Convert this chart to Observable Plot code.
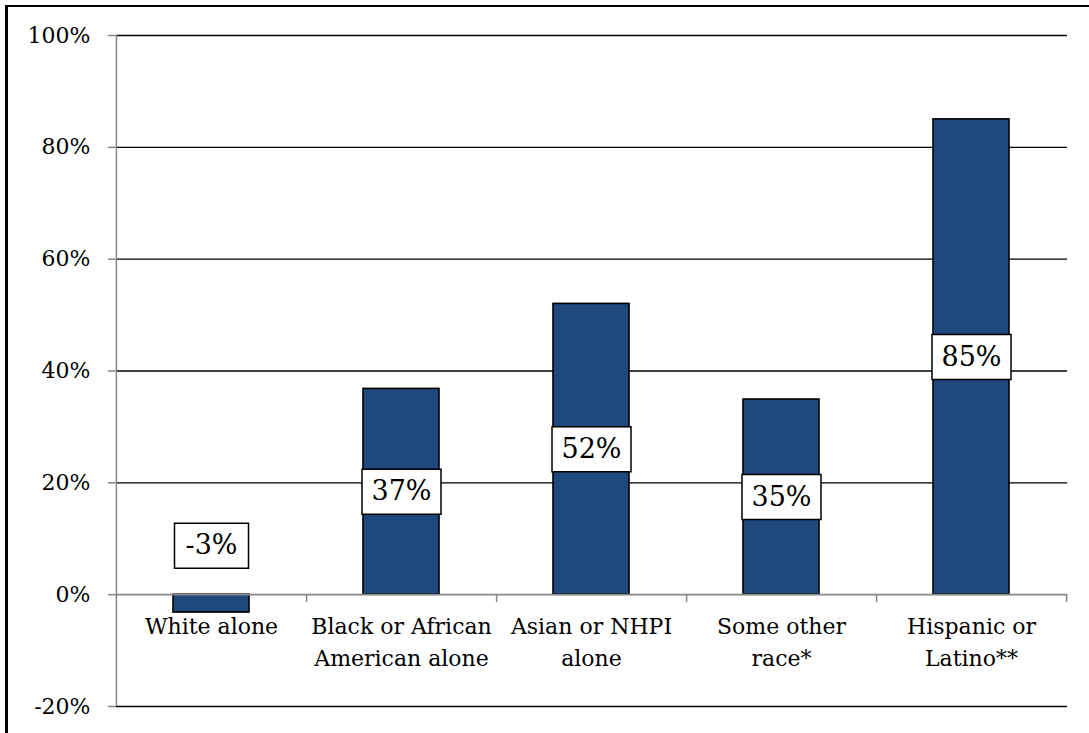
<!DOCTYPE html>
<html>
<head>
<meta charset="utf-8">
<script src="https://cdn.jsdelivr.net/npm/d3@7"></script>
<script src="https://cdn.jsdelivr.net/npm/@observablehq/plot@0.6"></script>
<style>
  html, body { margin: 0; padding: 0; background: white; }
  #wrap { position: relative; width: 1089px; height: 733px; overflow: hidden; }
  #chart { position: absolute; left: 0; top: 0; }
  #border { position: absolute; left: 5px; top: 5px; width: 1200px; height: 900px;
            border-left: 3px solid #000; border-top: 2px solid #000; pointer-events: none; }
</style>
</head>
<body>
<div id="wrap"><div id="chart"></div><div id="border"></div></div>
<script>
const categories = ["White alone", "Black or African\nAmerican alone", "Asian or NHPI\nalone", "Some other\nrace*", "Hispanic or\nLatino**"];
const values = [-3.2, 36.8, 52.0, 34.9, 85.0];
const labels = ["-3%", "37%", "52%", "35%", "85%"];
const yTicks = [-20, 0, 20, 40, 60, 80, 100];

const data = categories.map((c, i) => ({category: c, value: values[i], label: labels[i]}));
const pos = data.filter(d => d.value >= 0);
const neg = data.filter(d => d.value < 0);

const W = 1089, H = 733;
const mL = 116, mR = 22, mT = 35, mB = 27;
const halfStep = (W - mL - mR) / categories.length / 2;
const font = "DejaVu Serif";

const box = w => ({draw(ctx) { ctx.rect(-w / 2, -22.5, w, 45); }});

const plot = Plot.plot({
  width: W,
  height: H,
  marginLeft: mL,
  marginRight: mR,
  marginTop: mT,
  marginBottom: mB,
  style: {fontFamily: font, background: "transparent"},
  x: {domain: categories, paddingInner: 0.6, paddingOuter: 0.3, axis: null},
  y: {domain: [-20, 100], axis: null},
  marks: [
    // gridlines
    Plot.ruleY(yTicks.filter(t => t !== 0), {stroke: "#000", strokeWidth: 1.4}),
    // y axis line
    Plot.ruleX([categories[0]], {y1: -20, y2: 100, dx: -halfStep, stroke: "#868686", strokeWidth: 1.5}),
    // y axis ticks + labels
    Plot.axisY({ticks: yTicks, tickSize: 8, tickPadding: 18, tickFormat: d => d + "%", label: null,
      fontSize: 22, stroke: "#868686", fill: "#000", strokeWidth: 1.5}),
    // bars
    Plot.barY(data, {x: "category", y: "value", fill: "#1F497D", stroke: "#000", strokeWidth: 1.6}),
    // zero line
    Plot.ruleY([0], {stroke: "#868686", strokeWidth: 1.8}),
    // category boundary ticks
    Plot.ruleX(categories, {y1: 0, y2: -20, dx: halfStep, insetBottom: 104, stroke: "#868686", strokeWidth: 1.5}),
    // category labels
    Plot.text(data, {x: "category", y: 0, text: "category", lineAnchor: "top", dy: 17,
      lineHeight: 1.45, fontSize: 22, fill: "#000"}),
    // data label boxes
    Plot.dot(pos, {x: "category", y: d => d.value / 2, symbol: box(79), r: 10,
      fill: "#fff", stroke: "#000", strokeWidth: 1.5}),
    Plot.text(pos, {x: "category", y: d => d.value / 2, text: "label", fontSize: 27, fill: "#000"}),
    Plot.dot(neg, {x: "category", y: 0, dy: -49, symbol: box(74), r: 10,
      fill: "#fff", stroke: "#000", strokeWidth: 1.5}),
    Plot.text(neg, {x: "category", y: 0, dy: -49, text: "label", fontSize: 27, fill: "#000"})
  ]
});
document.getElementById("chart").appendChild(plot);
</script>
</body>
</html>
